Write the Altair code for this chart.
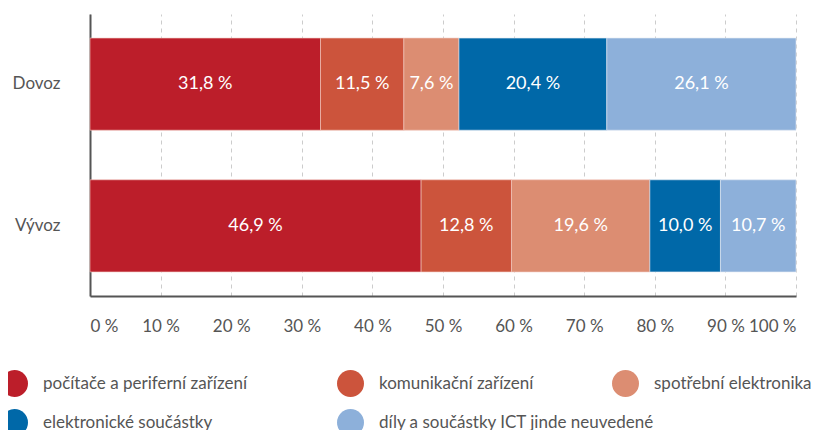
import altair as alt
import pandas as pd

trades = ["Dovoz", "Vývoz"]
categories = [
    "počítače a periferní zařízení",
    "komunikační zařízení",
    "spotřební  elektronika",
    "elektronické součástky",
    "díly a součástky ICT jinde neuvedené",
]
dovoz = [31.8, 11.5, 7.6, 20.4, 26.1]
vyvoz = [46.9, 12.8, 19.6, 10.0, 10.7]
colors = ["#BC1E2A", "#CC543C", "#DC8D72", "#0068A8", "#8DB0DA"]
strokes = ["#f2c8c0", "#f2c8c0", "#f2c8c0", "#e0e8f2", "#e0e8f2"]
x_ticks = [0, 10, 20, 30, 40, 50, 60, 70, 80, 90, 100]

rows = []
for t, vals in zip(trades, [dovoz, vyvoz]):
    for i, (c, v) in enumerate(zip(categories, vals)):
        rows.append({"trade": t, "cat": c, "order": i, "value": v,
                     "label": f"{v:.1f}".replace(".", ",") + " %"})
df = pd.DataFrame(rows)

FONT = "Lato"
GRAY = "#555555"

# legend item placement (relative to the plot origin)
legend_pos = [(-89, 356), (247, 356), (522, 356), (-89, 395), (247, 395)]

base = alt.Chart(df).transform_stack(
    stack="value", as_=["s0", "s1"], groupby=["trade"],
    sort=[alt.SortField("order")], offset="normalize"
).transform_calculate(
    x0="datum.s0*100", x1="datum.s1*100", mid="(datum.s0+datum.s1)*50"
)

yenc = alt.Y("trade:N", title=None, sort=trades,
             scale=alt.Scale(paddingInner=0.35, paddingOuter=0.17),
             axis=alt.Axis(domainColor=GRAY, domainWidth=2, ticks=False,
                           labelFontSize=17, labelColor=GRAY, labelFont=FONT,
                           labelPadding=30, grid=False))
xscale = alt.Scale(domain=[0, 100], nice=False)
xaxis = alt.Axis(values=x_ticks, labelExpr="datum.value + ' %'", title=None,
                 domainColor=GRAY, domainWidth=2, ticks=False,
                 labelFontSize=17, labelColor=GRAY, labelFont=FONT,
                 labelPadding=22, grid=True, gridColor="#cccccc",
                 gridDash=[4, 4], gridWidth=1)

def legend(x, y):
    return alt.Legend(title=None, orient="none", legendX=x, legendY=y,
                      direction="horizontal", symbolType="circle",
                      symbolSize=729, symbolStrokeWidth=0, symbolOpacity=1,
                      labelFontSize=17, labelFont=FONT, labelColor=GRAY,
                      labelOffset=15, labelLimit=500)

layers = []
for i, cat in enumerate(categories):
    layers.append(
        base.transform_filter(f"datum.order == {i}").mark_bar(
            stroke=strokes[i], strokeWidth=0.6
        ).encode(
            y=yenc if i == 0 else alt.Y("trade:N", sort=trades),
            x=alt.X("x0:Q", scale=xscale, axis=xaxis) if i == 0
              else alt.X("x0:Q", scale=xscale),
            x2="x1:Q",
            color=alt.Color("cat:N",
                            scale=alt.Scale(domain=[cat], range=[colors[i]]),
                            legend=legend(*legend_pos[i])),
        )
    )

text = base.mark_text(color="white", fontSize=18, font=FONT).encode(
    y=alt.Y("trade:N", sort=trades),
    x=alt.X("mid:Q", scale=xscale),
    text="label:N",
)

chart = alt.layer(*layers, text).resolve_scale(color="independent").properties(
    width=706, height=282,
    autosize=alt.AutoSizeParams(type="none"),
    padding={"left": 82, "top": 6, "right": 21, "bottom": 140},
).configure_view(stroke=None)

chart.save("out.html", embed_options={"renderer": "svg", "actions": False})
